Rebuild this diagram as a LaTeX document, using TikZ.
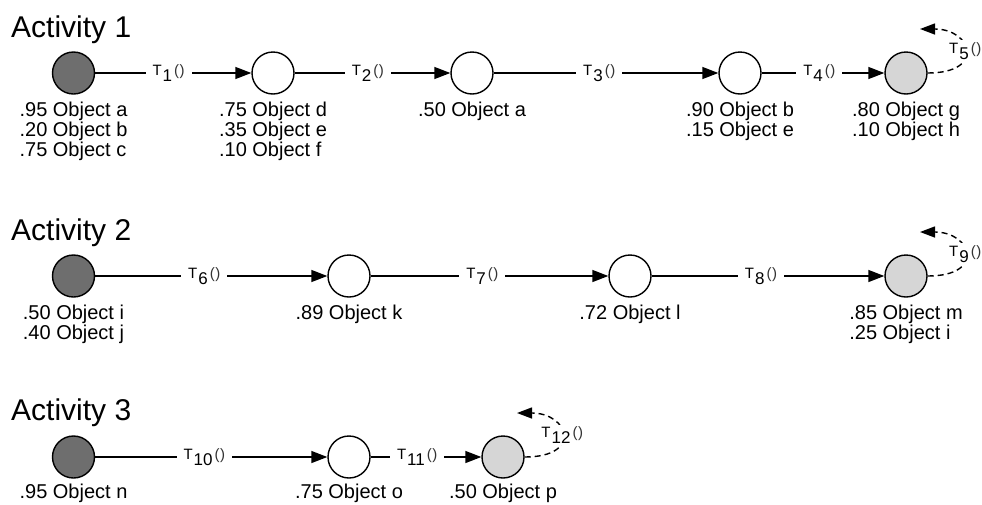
\documentclass[tikz,border=0pt]{standalone}
\usepackage{fontspec}
\setmainfont{Liberation Sans}
\usetikzlibrary{arrows.meta,calc}

\definecolor{startgray}{HTML}{6E6E6E}
\definecolor{endgray}{HTML}{D6D6D6}

% transition label: small T, lowered index, thin parentheses
\newcommand\translabel[1]{{\fontsize{15}{15}\selectfont T}\kern1pt\raisebox{-6pt}{\fontsize{17}{17}\selectfont #1}\kern2pt{\fontsize{15}{15}\selectfont\color{black!80}(\kern0.5pt)}}

\tikzset{
  state/.style={circle, draw, line width=1.4pt, minimum size=42pt, inner sep=0pt},
  startstate/.style={state, fill=startgray},
  endstate/.style={state, fill=endgray},
  midstate/.style={state, fill=white},
  trans/.style={line width=1.4pt, -{Triangle[length=16pt,width=12pt]}},
  tlabel/.style={fill=white, inner xsep=7pt, inner ysep=1pt, anchor=base, yshift=-2pt, pos=0.47},
  selfloop/.style={line width=1.4pt, dash pattern=on 6pt off 4pt, -{Triangle[length=15pt,width=11pt]}},
  looplabel/.style={fill=white, inner sep=2pt, pos=0.5},
  objs/.style={font=\fontsize{20}{20}\selectfont, align=left, anchor=base, inner sep=0pt},
  acttitle/.style={font=\fontsize{30}{30}\selectfont, anchor=base west, inner sep=0pt}
}

\begin{document}
\begin{tikzpicture}[x=1pt,y=-1pt]
\fill[white] (0,0) rectangle (982,504);
\useasboundingbox (0,0) rectangle (982,504);

% ---------------- Activity 1 ----------------
\node[acttitle] (t1) at (11,37) {Activity 1};
\node[startstate] (a1) at (73.5,73) {};
\node[midstate]   (a2) at (273,73) {};
\node[midstate]   (a3) at (472,73) {};
\node[midstate]   (a4) at (740,73) {};
\node[endstate]   (a5) at (906,73) {};

\draw[trans] (a1) -- node[tlabel]{\translabel{1}} (a2);
\draw[trans] (a2) -- node[tlabel]{\translabel{2}} (a3);
\draw[trans] (a3) -- node[tlabel]{\translabel{3}} (a4);
\draw[trans] (a4) -- node[tlabel]{\translabel{4}} (a5);
\draw[selfloop] (a5.east) .. controls ($(a5)+(80,0)$) and ($(a5)+(66,-44)$) .. node[looplabel]{\translabel{5}} ($(a5)+(14,-44)$);

% the base anchor of a multi-line block sits on its last line
\node[objs] (o1) at ($(a1)+(0,83)$) {.95 Object a\\.20 Object b\\.75 Object c};
\node[objs] (o2) at ($(a2)+(0,83)$) {.75 Object d\\.35 Object e\\.10 Object f};
\node[objs] (o3) at ($(a3)+(0,43)$) {.50 Object a};
\node[objs] (o4) at ($(a4)+(0,63)$) {.90 Object b\\.15 Object e};
\node[objs] (o5) at ($(a5)+(0,63)$) {.80 Object g\\.10 Object h};

% ---------------- Activity 2 ----------------
\node[acttitle] (t2) at (11,240) {Activity 2};
\node[startstate] (b1) at (73.5,276) {};
\node[midstate]   (b2) at (349,276) {};
\node[midstate]   (b3) at (630,276) {};
\node[endstate]   (b4) at (906,276) {};

\draw[trans] (b1) -- node[tlabel]{\translabel{6}} (b2);
\draw[trans] (b2) -- node[tlabel]{\translabel{7}} (b3);
\draw[trans] (b3) -- node[tlabel]{\translabel{8}} (b4);
\draw[selfloop] (b4.east) .. controls ($(b4)+(80,0)$) and ($(b4)+(66,-44)$) .. node[looplabel]{\translabel{9}} ($(b4)+(14,-44)$);

\node[objs] (p1) at ($(b1)+(0,63)$) {.50 Object i\\.40 Object j};
\node[objs] (p2) at ($(b2)+(0,43)$) {.89 Object k};
\node[objs] (p3) at ($(b3)+(0,43)$) {.72 Object l};
\node[objs] (p4) at ($(b4)+(0,63)$) {.85 Object m\\.25 Object i};

% ---------------- Activity 3 ----------------
\node[acttitle] (t3) at (11,420) {Activity 3};
\node[startstate] (c1) at (73.5,457) {};
\node[midstate]   (c2) at (349,457) {};
\node[endstate]   (c3) at (503,457) {};

\draw[trans] (c1) -- node[tlabel]{\translabel{10}} (c2);
\draw[trans] (c2) -- node[tlabel,pos=0.42]{\translabel{11}} (c3);
\draw[selfloop] (c3.east) .. controls ($(c3)+(80,0)$) and ($(c3)+(66,-44)$) .. node[looplabel]{\translabel{12}} ($(c3)+(14,-44)$);

\node[objs] (q1) at ($(c1)+(0,41)$) {.95 Object n};
\node[objs] (q2) at ($(c2)+(0,41)$) {.75 Object o};
\node[objs] (q3) at ($(c3)+(0,41)$) {.50 Object p};
\end{tikzpicture}
\end{document}
